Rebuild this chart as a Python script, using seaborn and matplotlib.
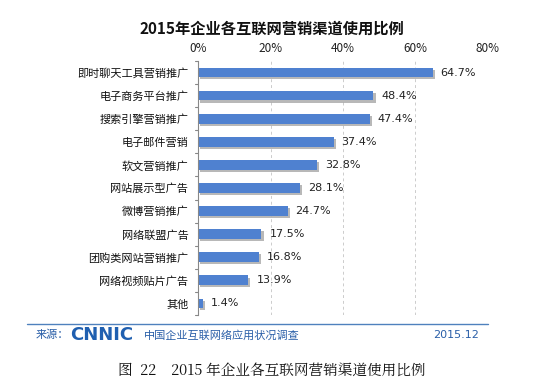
import matplotlib.pyplot as plt
import matplotlib.patheffects as pe
from matplotlib.ticker import FuncFormatter
import seaborn as sns
import pandas as pd

channels = ["即时聊天工具营销推广", "电子商务平台推广", "搜索引擎营销推广", "电子邮件营销",
            "软文营销推广", "网站展示型广告", "微博营销推广", "网络联盟广告",
            "团购类网站营销推广", "网络视频贴片广告", "其他"]
usage = [64.7, 48.4, 47.4, 37.4, 32.8, 28.1, 24.7, 17.5, 16.8, 13.9, 1.4]
x_ticks = [0, 20, 40, 60, 80]

df = pd.DataFrame({"channel": channels, "usage": usage})

sns.set_style("white")
plt.rcParams['font.family'] = ['Noto Sans CJK SC', 'DejaVu Sans']
plt.rcParams['font.size'] = 8

fig = plt.figure(figsize=(5.44, 3.86), dpi=100)
ax = fig.add_axes([0.364, 0.184, 0.533, 0.658])

sns.barplot(data=df, x="usage", y="channel", orient="h", color="#4f81d0",
            saturation=1, width=0.42, ax=ax)
for bar in ax.patches:
    bar.set_edgecolor("none")
    bar.set_path_effects([pe.SimplePatchShadow(offset=(1.5, -1.5), shadow_rgbFace="#9a9a9a", alpha=0.7),
                          pe.Normal()])

for i, v in enumerate(usage):
    ax.text(v + 2.2, i, f"{v}%", va="center", ha="left", fontsize=8, color="#222222",
            family=['DejaVu Sans'])

ax.set_xlim(0, 80)
ax.set_xticks(x_ticks)
ax.xaxis.set_major_formatter(FuncFormatter(lambda v, p: f"{v:.0f}%"))
ax.xaxis.tick_top()
ax.tick_params(axis="x", length=0, pad=4, labelsize=8.5, colors="#222222")
ax.tick_params(axis="y", length=0, pad=7, labelsize=8, colors="#111111")
ax.set_xlabel("")
ax.set_ylabel("")
ax.set_ylim(len(channels) - 0.5, -0.5)

for v in x_ticks[1:]:
    ax.axvline(v, color="#cccccc", linestyle=(0, (3, 3)), linewidth=0.7, zorder=0)

for s in ["top", "right", "bottom"]:
    ax.spines[s].set_visible(False)
ax.spines["left"].set_color("#888888")
ax.spines["left"].set_linewidth(0.8)
for k in range(len(channels) + 1):
    ax.plot([-0.8, 0], [k - 0.5, k - 0.5], color="#888888", lw=0.8, clip_on=False)

fig.text(0.5, 0.925, "2015年企业各互联网营销渠道使用比例", ha="center", va="center",
         fontsize=11, fontweight="bold", color="#111111")

fig.add_artist(plt.Line2D([0.05, 0.897], [0.16, 0.16], color="#4f81bd", lw=1))
fig.text(0.065, 0.132, "来源：", fontsize=8, color="#2a5fa8", va="center")
fig.text(0.128, 0.132, "CNNIC", fontsize=13, fontweight="bold", color="#1f5fb0",
         va="center", family=['DejaVu Sans'])
fig.text(0.265, 0.132, "中国企业互联网络应用状况调查", fontsize=8, color="#2a5fa8", va="center")
fig.text(0.88, 0.132, "2015.12", fontsize=8, color="#2a5fa8", va="center", ha="right",
         family=['DejaVu Sans'])

fig.text(0.5, 0.04, "图  22    2015 年企业各互联网营销渠道使用比例", ha="center", va="center",
         fontsize=10.5, color="#111111", family=['Noto Serif CJK SC', 'Noto Sans CJK SC', 'DejaVu Sans'])

fig.savefig("out.png", dpi=100)
